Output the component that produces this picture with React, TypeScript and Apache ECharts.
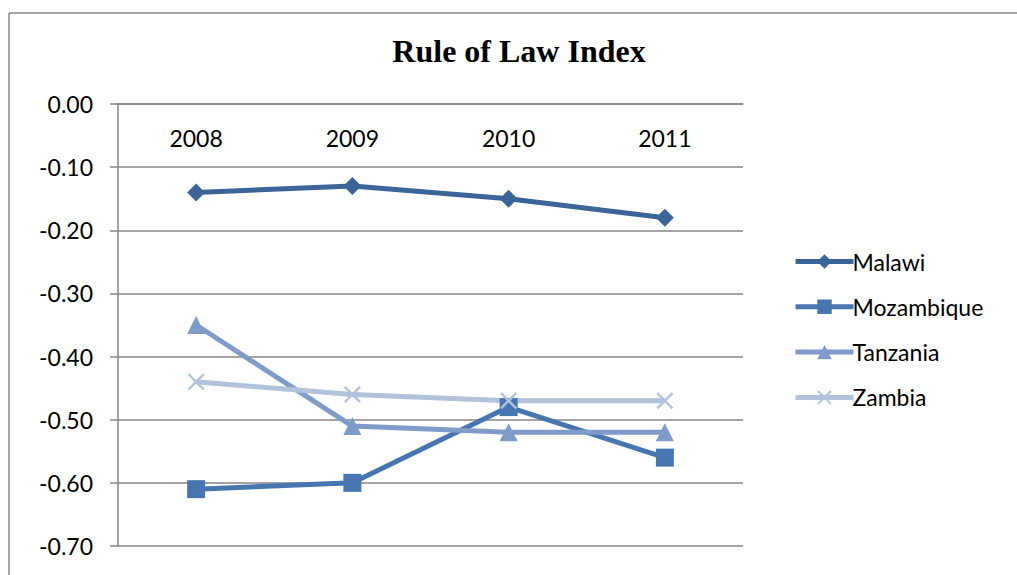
import React, { useEffect, useRef } from "react";
import * as echarts from "echarts";

const categories = ["2008", "2009", "2010", "2011"];
const malawi = [-0.14, -0.13, -0.15, -0.18];
const mozambique = [-0.61, -0.6, -0.48, -0.56];
const tanzania = [-0.35, -0.51, -0.52, -0.52];
const zambia = [-0.44, -0.46, -0.47, -0.47];
const yTicks = { min: -0.7, max: 0, interval: 0.1 };

const xSymbol =
  "path://M0,1 L1,0 L5,4 L9,0 L10,1 L6,5 L10,9 L9,10 L5,6 L1,10 L0,9 L4,5 Z";

export default function App() {
  const ref = useRef<HTMLDivElement>(null);
  useEffect(() => {
    if (!ref.current) return;
    const chart = echarts.init(ref.current, null, { renderer: "svg" });
    const font = "Lato, 'Noto Sans', sans-serif";
    const mk = (name: string, data: number[], color: string, symbol: string, size: number) => ({
      name,
      type: "line",
      data,
      symbol,
      symbolSize: size,
      lineStyle: { color, width: 5 },
      itemStyle: { color },
      z: 3,
    });
    chart.setOption({
      animation: false,
      backgroundColor: "#ffffff",
      title: {
        text: "Rule of Law Index",
        left: 519,
        textAlign: "center",
        top: 35,
        padding: 0,
        textStyle: {
          fontFamily: "'Liberation Serif', 'Times New Roman', serif",
          fontWeight: "bold",
          fontSize: 32,
          color: "#000",
        },
      },
      grid: { left: 118, right: 274, top: 104, bottom: 29, containLabel: false },
      xAxis: {
        type: "category",
        data: categories,
        position: "top",
        boundaryGap: true,
        axisLine: { show: true, lineStyle: { color: "#868686", width: 1.5 } },
        axisTick: { show: false },
        axisLabel: {
          inside: true,
          margin: 22,
          fontFamily: font,
          fontSize: 23,
          color: "#000",
        },
      },
      yAxis: {
        type: "value",
        min: yTicks.min,
        max: yTicks.max,
        interval: yTicks.interval,
        axisLine: { show: true, lineStyle: { color: "#868686", width: 1.5 } },
        axisTick: { show: true, length: 8, lineStyle: { color: "#868686", width: 1.5 } },
        splitLine: { show: true, lineStyle: { color: "#868686", width: 1.5 } },
        axisLabel: {
          margin: 25,
          fontFamily: font,
          fontSize: 23,
          color: "#000",
          formatter: (v: number) => v.toFixed(2),
        },
      },
      legend: {
        orient: "vertical",
        left: 793,
        top: 250,
        padding: 0,
        itemWidth: 58,
        itemHeight: 18,
        itemGap: 22.3,
        lineStyle: { width: 5 },
        textStyle: { fontFamily: font, fontSize: 23, color: "#000", padding: [0, 0, 0, -6] },
        data: ["Malawi", "Mozambique", "Tanzania", "Zambia"],
      },
      graphic: [
        { type: "line", shape: { x1: 9, y1: 13, x2: 1017, y2: 13 }, style: { stroke: "#868686", lineWidth: 1.5 } },
        { type: "line", shape: { x1: 9, y1: 13, x2: 9, y2: 575 }, style: { stroke: "#868686", lineWidth: 1.5 } },
      ],
      series: [
        mk("Malawi", malawi, "#3B6498", "diamond", 18),
        mk("Mozambique", mozambique, "#4675B0", "rect", 18),
        mk("Tanzania", tanzania, "#7E9BC9", "triangle", 18),
        mk("Zambia", zambia, "#B1C2DD", xSymbol, 17),
      ],
    });
    return () => chart.dispose();
  }, []);
  return (
    <div
      ref={ref}
      style={{ position: "absolute", left: 0, top: 0, width: 1017, height: 575 }}
    />
  );
}
